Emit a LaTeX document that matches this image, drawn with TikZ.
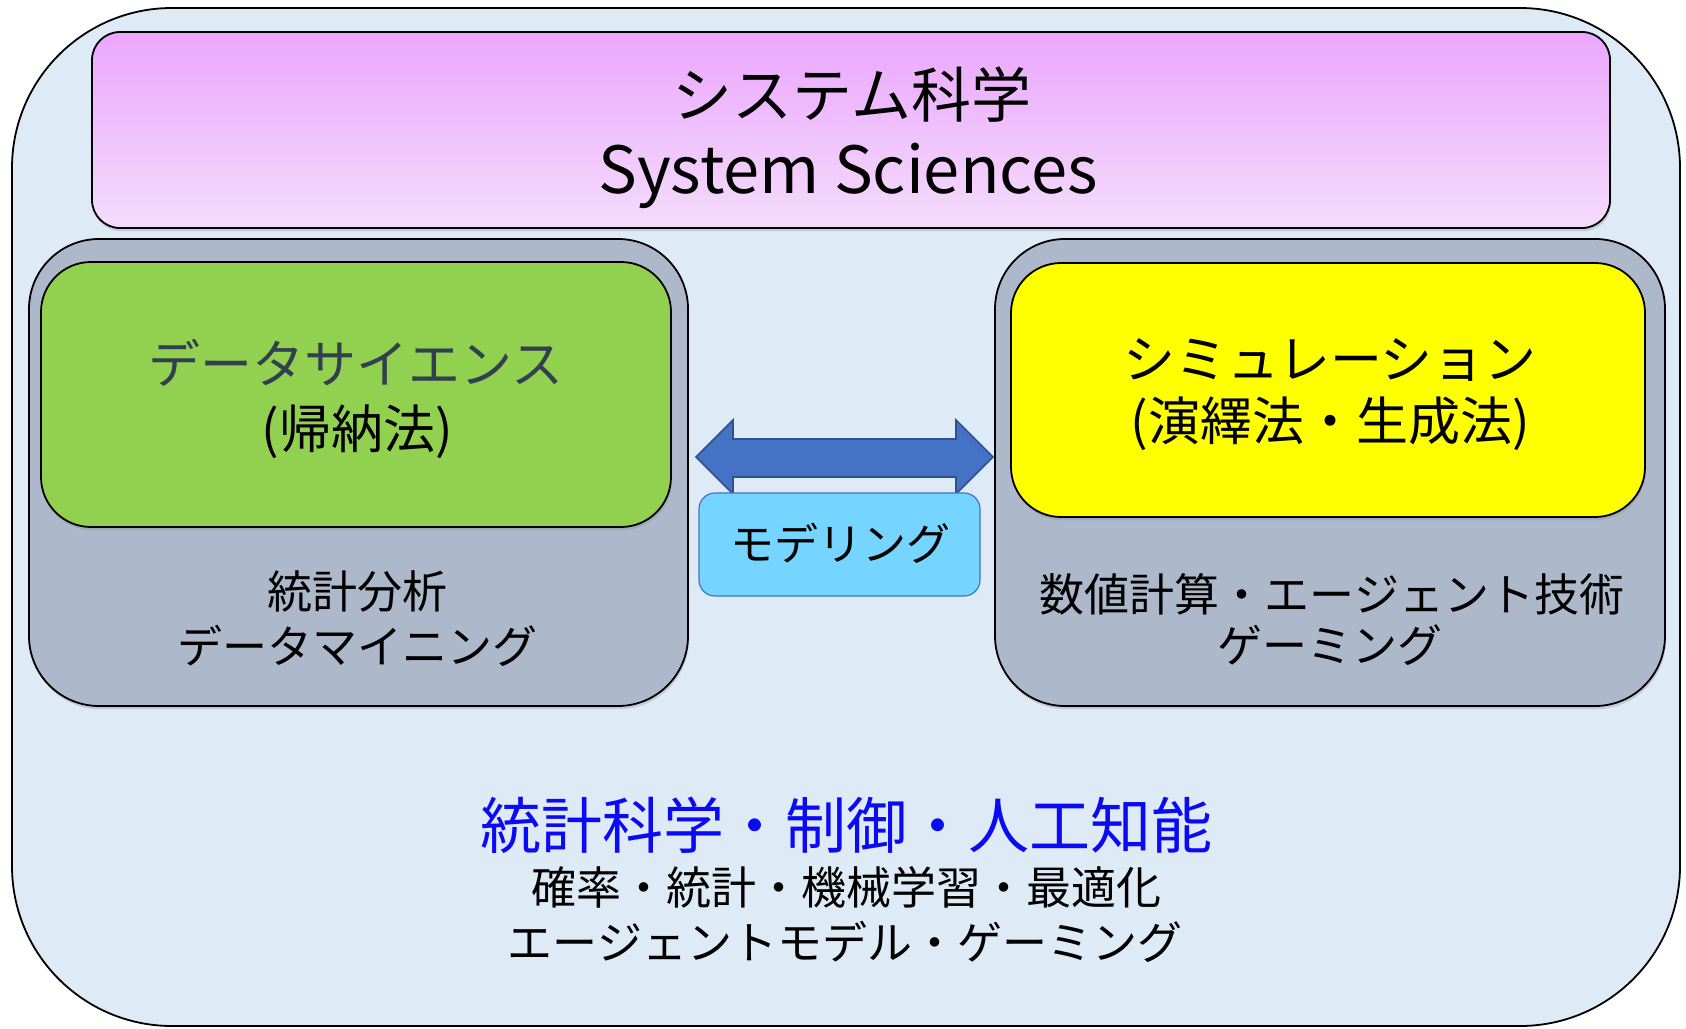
\documentclass[tikz,border=0pt]{standalone}
\usepackage{fontspec}
\setmainfont{Noto Sans CJK JP}
\usetikzlibrary{shadows,calc}
\definecolor{outerbg}{HTML}{DEEAF6}
\definecolor{graybox}{HTML}{ADB9CA}
\definecolor{greenbox}{HTML}{92D050}
\definecolor{yellowbox}{HTML}{FFFF00}
\definecolor{purtop}{HTML}{EBA6FD}
\definecolor{purbot}{HTML}{F4DCFC}
\definecolor{arrowfill}{HTML}{4472C4}
\definecolor{arrowline}{HTML}{2F528F}
\definecolor{modfill}{HTML}{75D5FF}
\definecolor{navytext}{HTML}{323F4F}
\definecolor{bluetext}{HTML}{0A0AF5}
\begin{document}
\begin{tikzpicture}[x=0.5pt,y=-0.5pt,
  box/.style={draw=black, line width=0.9pt, inner sep=0pt, outer sep=0pt, rectangle},
  shd/.style={drop shadow={opacity=0.28, shadow xshift=0.5pt, shadow yshift=-1.6pt}},
  lbl/.style={inner sep=0pt, font=\fontsize{#1}{#1}\selectfont},
]
\useasboundingbox (0,0) rectangle (1686,1028);

% outer container
\node[box, fill=outerbg, rounded corners=80pt, minimum width=834pt, minimum height=509pt] (outer) at (846,517) {};

% top box
\node[box, shd, top color=purtop, bottom color=purbot, rounded corners=14pt,
      minimum width=759pt, minimum height=98pt] (sysbox) at (851,130) {};
\node[lbl=30] (sysjp) at (852,95) {システム科学};
\node[lbl=32.5, anchor=base] (sysen) at (848,193) {System Sciences};

% left group
\node[box, shd, fill=graybox, rounded corners=35pt, minimum width=329.5pt, minimum height=233.5pt] (dsgray) at (358.5,472.5) {};
\node[box, shd, fill=greenbox, rounded corners=25pt, minimum width=315pt, minimum height=132.5pt] (dsbox) at (356,394.5) {};
\node[lbl=26, text=navytext] (dstitle) at (356,363) {データサイエンス};
\node[lbl=26] (dssub) at (357,432) {(帰納法)};
\node[lbl=22.5] (dsl1) at (357,592) {統計分析};
\node[lbl=22.5] (dsl2) at (357,646) {データマイニング};

% right group
\node[box, shd, fill=graybox, rounded corners=35pt, minimum width=335pt, minimum height=233.5pt] (simgray) at (1330,472.5) {};
\node[box, shd, fill=yellowbox, rounded corners=25pt, minimum width=317pt, minimum height=127pt] (simbox) at (1328,390) {};
\node[lbl=26] (simtitle) at (1330,360) {シミュレーション};
\node[lbl=26] (simsub) at (1330,424) {(演繹法・生成法)};
\node[lbl=22.5] (siml1) at (1332,594) {数値計算・エージェント技術};
\node[lbl=22.5] (siml2) at (1330,645) {ゲーミング};

% double block arrow between the groups
\coordinate (aL) at (696,457);
\coordinate (aR) at (993,457);
\draw[fill=arrowfill, draw=arrowline, line width=0.8pt, line join=miter]
  (aL) -- ($(aL)+(37,-37)$) -- ($(aL)+(37,-18)$) -- ($(aR)+(-37,-18)$) -- ($(aR)+(-37,-37)$)
  -- (aR) -- ($(aR)+(-37,37)$) -- ($(aR)+(-37,20)$) -- ($(aL)+(37,20)$) -- ($(aL)+(37,37)$) -- cycle;

% modeling label box
\node[box, draw=arrowfill, line width=0.6pt, fill=modfill, rounded corners=8pt,
      minimum width=140.5pt, minimum height=51.5pt] (modbox) at (839.5,544.5) {};
\node[lbl=22] (modtext) at (840,543) {モデリング};

% bottom texts
\node[lbl=30.5, text=bluetext] (fields) at (846,825) {統計科学・制御・人工知能};
\node[lbl=22.5] (fl1) at (846,887) {確率・統計・機械学習・最適化};
\node[lbl=22.5] (fl2) at (845,942) {エージェントモデル・ゲーミング};
\end{tikzpicture}
\end{document}
